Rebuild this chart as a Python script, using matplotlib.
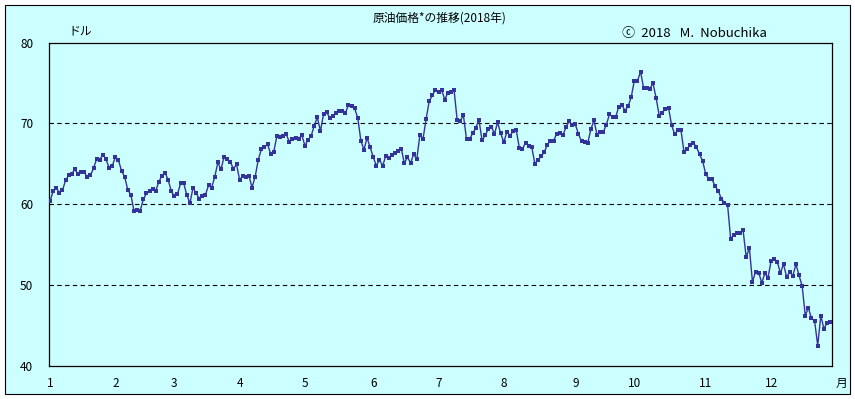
import matplotlib
matplotlib.use('Agg')
import matplotlib.pyplot as plt
from matplotlib.patches import Rectangle

plt.rcParams['font.family'] = ['Noto Sans CJK JP', 'DejaVu Sans']

# 月ごとの終値 (ドル/バレル)
jan = [60.37, 61.63, 62.01, 61.44, 61.73, 62.96, 63.57, 63.80, 64.30, 63.73, 63.97,
       63.95, 63.37, 63.57, 64.47, 65.61, 65.51, 66.14, 65.56, 64.50, 64.73]
feb = [65.80, 65.45, 64.15, 63.39, 61.79, 61.15, 59.20, 59.29, 59.19, 60.60, 61.34,
       61.68, 61.90, 61.68, 62.77, 63.55, 63.91, 63.01, 61.64]
mar = [60.99, 61.25, 62.57, 62.60, 61.15, 60.12, 62.04, 61.36, 60.71, 60.96, 61.19,
       62.34, 62.06, 63.40, 65.17, 64.30, 65.88, 65.55, 65.25, 64.38, 64.94]
apr = [63.01, 63.51, 63.37, 63.54, 62.06, 63.42, 65.51, 66.82, 67.07, 67.39, 66.22,
       66.52, 68.47, 68.29, 68.38, 68.64, 67.70, 68.05, 68.19, 68.10, 68.57]
may = [67.25, 67.93, 68.43, 69.72, 70.73, 69.06, 71.14, 71.36, 70.70, 70.96, 71.31,
       71.49, 71.49, 71.28, 72.24, 72.13, 71.84, 70.71, 67.88, 66.73, 68.21, 67.04]
jun = [65.81, 64.75, 65.52, 64.73, 65.95, 65.74, 66.10, 66.36, 66.64, 66.89, 65.06,
       65.85, 65.07, 66.22, 65.54, 68.58, 68.08, 70.53, 72.76, 73.45, 74.15]
jul = [73.94, 74.14, 72.94, 73.80, 73.85, 74.11, 70.38, 70.33, 71.01, 68.06, 68.08,
       68.76, 69.46, 70.46, 67.89, 68.52, 69.30, 69.61, 68.69, 70.13, 68.76]
aug = [67.66, 68.96, 68.49, 69.01, 69.17, 66.94, 66.81, 67.63, 67.20, 67.04, 65.01,
       65.46, 65.91, 66.43, 67.35, 67.86, 67.83, 68.72, 68.87, 68.53, 69.51, 70.25, 69.80]
sep = [69.87, 68.72, 67.77, 67.75, 67.54, 69.25, 70.37, 68.59, 68.99, 68.91, 69.85,
       71.12, 70.80, 70.78, 72.08, 72.28, 71.57, 72.12, 73.25]
oct_ = [75.30, 75.23, 76.41, 74.33, 74.34, 74.29, 74.96, 73.17, 70.97, 71.34, 71.78,
        71.92, 69.75, 68.65, 69.12, 69.17, 66.43, 66.82, 67.33, 67.59, 67.04, 66.18, 65.31]
nov = [63.69, 63.14, 63.10, 62.21, 61.67, 60.67, 60.19, 59.93, 55.69, 56.25, 56.46,
       56.46, 56.76, 53.43, 54.63, 50.42, 51.63, 51.56, 50.29, 51.45, 50.93]
dec = [52.95, 53.25, 52.89, 51.49, 52.61, 51.00, 51.65, 51.15, 52.58, 51.20, 49.88,
       46.24, 47.20, 45.88, 45.59, 42.53, 46.22, 44.61, 45.33, 45.41]

months = [jan, feb, mar, apr, may, jun, jul, aug, sep, oct_, nov, dec]
month_labels = ['1', '2', '3', '4', '5', '6', '7', '8', '9', '10', '11', '12']

prices = []
month_start = []
for m in months:
    month_start.append(len(prices))
    prices.extend(m)
days = list(range(len(prices)))

W, H = 855, 399
bg = '#CCFFFF'
line_color = '#333399'

fig = plt.figure(figsize=(W / 100, H / 100), dpi=100, facecolor='white')

# 外枠
fig.patches.append(Rectangle((5 / W, 5 / H), 845 / W, 389 / H, transform=fig.transFigure,
                             facecolor=bg, edgecolor='black', linewidth=0.8, zorder=-1))

ax = fig.add_axes([48.5 / W, 1 - 366 / H, (832 - 48.5) / W, (366 - 42.5) / H])
ax.set_facecolor(bg)
ax.plot(days, prices, color=line_color, linewidth=1.0, marker='s', markersize=3.0,
        markeredgewidth=0, markerfacecolor=line_color, zorder=3)

ax.set_xlim(-0.5, len(prices) - 0.4)
ax.set_ylim(40, 80)
ax.set_yticks([40, 50, 60, 70, 80])
ax.set_xticks(month_start)
ax.set_xticklabels(month_labels)
ax.tick_params(axis='both', length=0, labelsize=8.5, colors='black')
ax.tick_params(axis='y', pad=11)
ax.tick_params(axis='x', pad=8)

for v in [50, 60, 70]:
    ax.axhline(v, color='black', linewidth=0.8, linestyle=(0, (4, 3)), zorder=1)

for s in ax.spines.values():
    s.set_color('black')
    s.set_linewidth(0.9)

fig.text(440 / W, 1 - 18 / H, '原油価格*の推移(2018年)', ha='center', va='center', fontsize=8.5)
fig.text(68 / W, 1 - 31 / H, 'ドル', ha='left', va='center', fontsize=8.5)
fig.text(622 / W, 1 - 33 / H, 'ⓒ  2018   M.  Nobuchika', ha='left', va='center', fontsize=9.5)
fig.text(841 / W, 1 - 383 / H, '月', ha='center', va='center', fontsize=8.5)

fig.savefig('out.png', dpi=100, facecolor='white')
